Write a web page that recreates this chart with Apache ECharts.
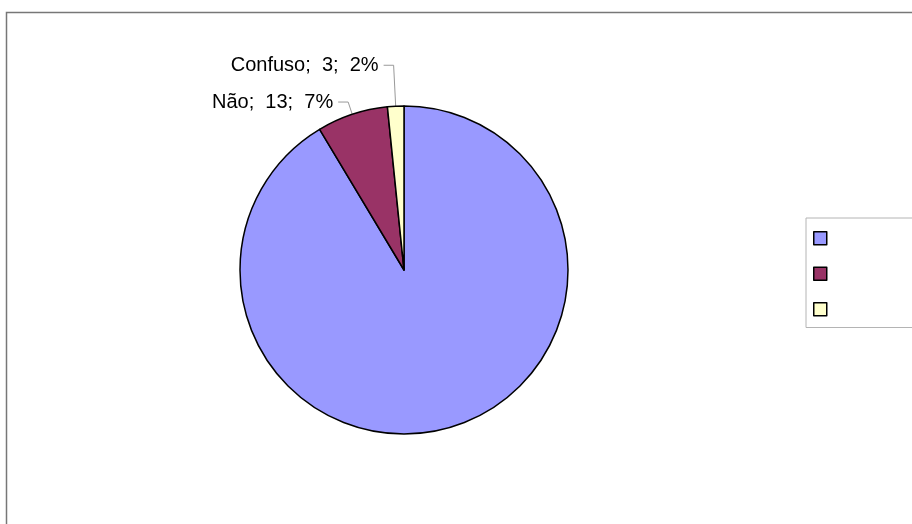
<!DOCTYPE html>
<html>
<head>
<meta charset="utf-8">
<script src="https://cdn.jsdelivr.net/npm/echarts@6/dist/echarts.min.js"></script>
<style>
  html, body { margin: 0; padding: 0; background: #ffffff; }
  #chart { width: 912px; height: 524px; }
</style>
</head>
<body>
<div id="chart"></div>
<script>
const categories = ["Sim", "Não", "Confuso"];
const values = [170, 13, 3];
const colors = ["#9999ff", "#993366", "#ffffcc"];
// per-slice leader line lengths (radial part)
const leaderLengths = [0, 13, 41];

const chart = echarts.init(document.getElementById("chart"), null, { renderer: "canvas" });

const pieData = categories.map((name, i) => ({
  name,
  value: values[i],
  itemStyle: { color: colors[i] },
  label: { show: i > 0 },
  labelLine: { show: i > 0, length: leaderLengths[i], length2: 10 }
}));

chart.setOption({
  animation: false,
  backgroundColor: "#ffffff",
  graphic: [
    {
      type: "rect",
      shape: { x: 6.5, y: 12.5, width: 1200, height: 1200 },
      style: { fill: "none", stroke: "#777777", lineWidth: 1.5 },
      silent: true,
      z: -1
    }
  ],
  legend: {
    orient: "vertical",
    left: 806,
    top: 218,
    padding: [13, 200, 11, 7],
    itemGap: 21,
    itemWidth: 13,
    itemHeight: 13,
    icon: "rect",
    borderColor: "#b4b4b4",
    borderWidth: 1,
    data: categories,
    formatter: () => "",
    textStyle: { fontSize: 12 },
    itemStyle: { borderColor: "#000000", borderWidth: 1.5 }
  },
  series: [
    {
      type: "pie",
      center: [404, 270],
      radius: 164,
      startAngle: 90,
      clockwise: true,
      percentPrecision: 0,
      avoidLabelOverlap: false,
      itemStyle: { borderColor: "#000000", borderWidth: 1.5 },
      label: {
        position: "outside",
        formatter: "{b};  {c};  {d}%",
        fontFamily: "Liberation Sans, Arial, sans-serif",
        fontSize: 20,
        color: "#000000"
      },
      labelLine: {
        lineStyle: { color: "#999999", width: 1 }
      },
      emphasis: { disabled: true },
      data: pieData
    }
  ]
});
</script>
</body>
</html>
